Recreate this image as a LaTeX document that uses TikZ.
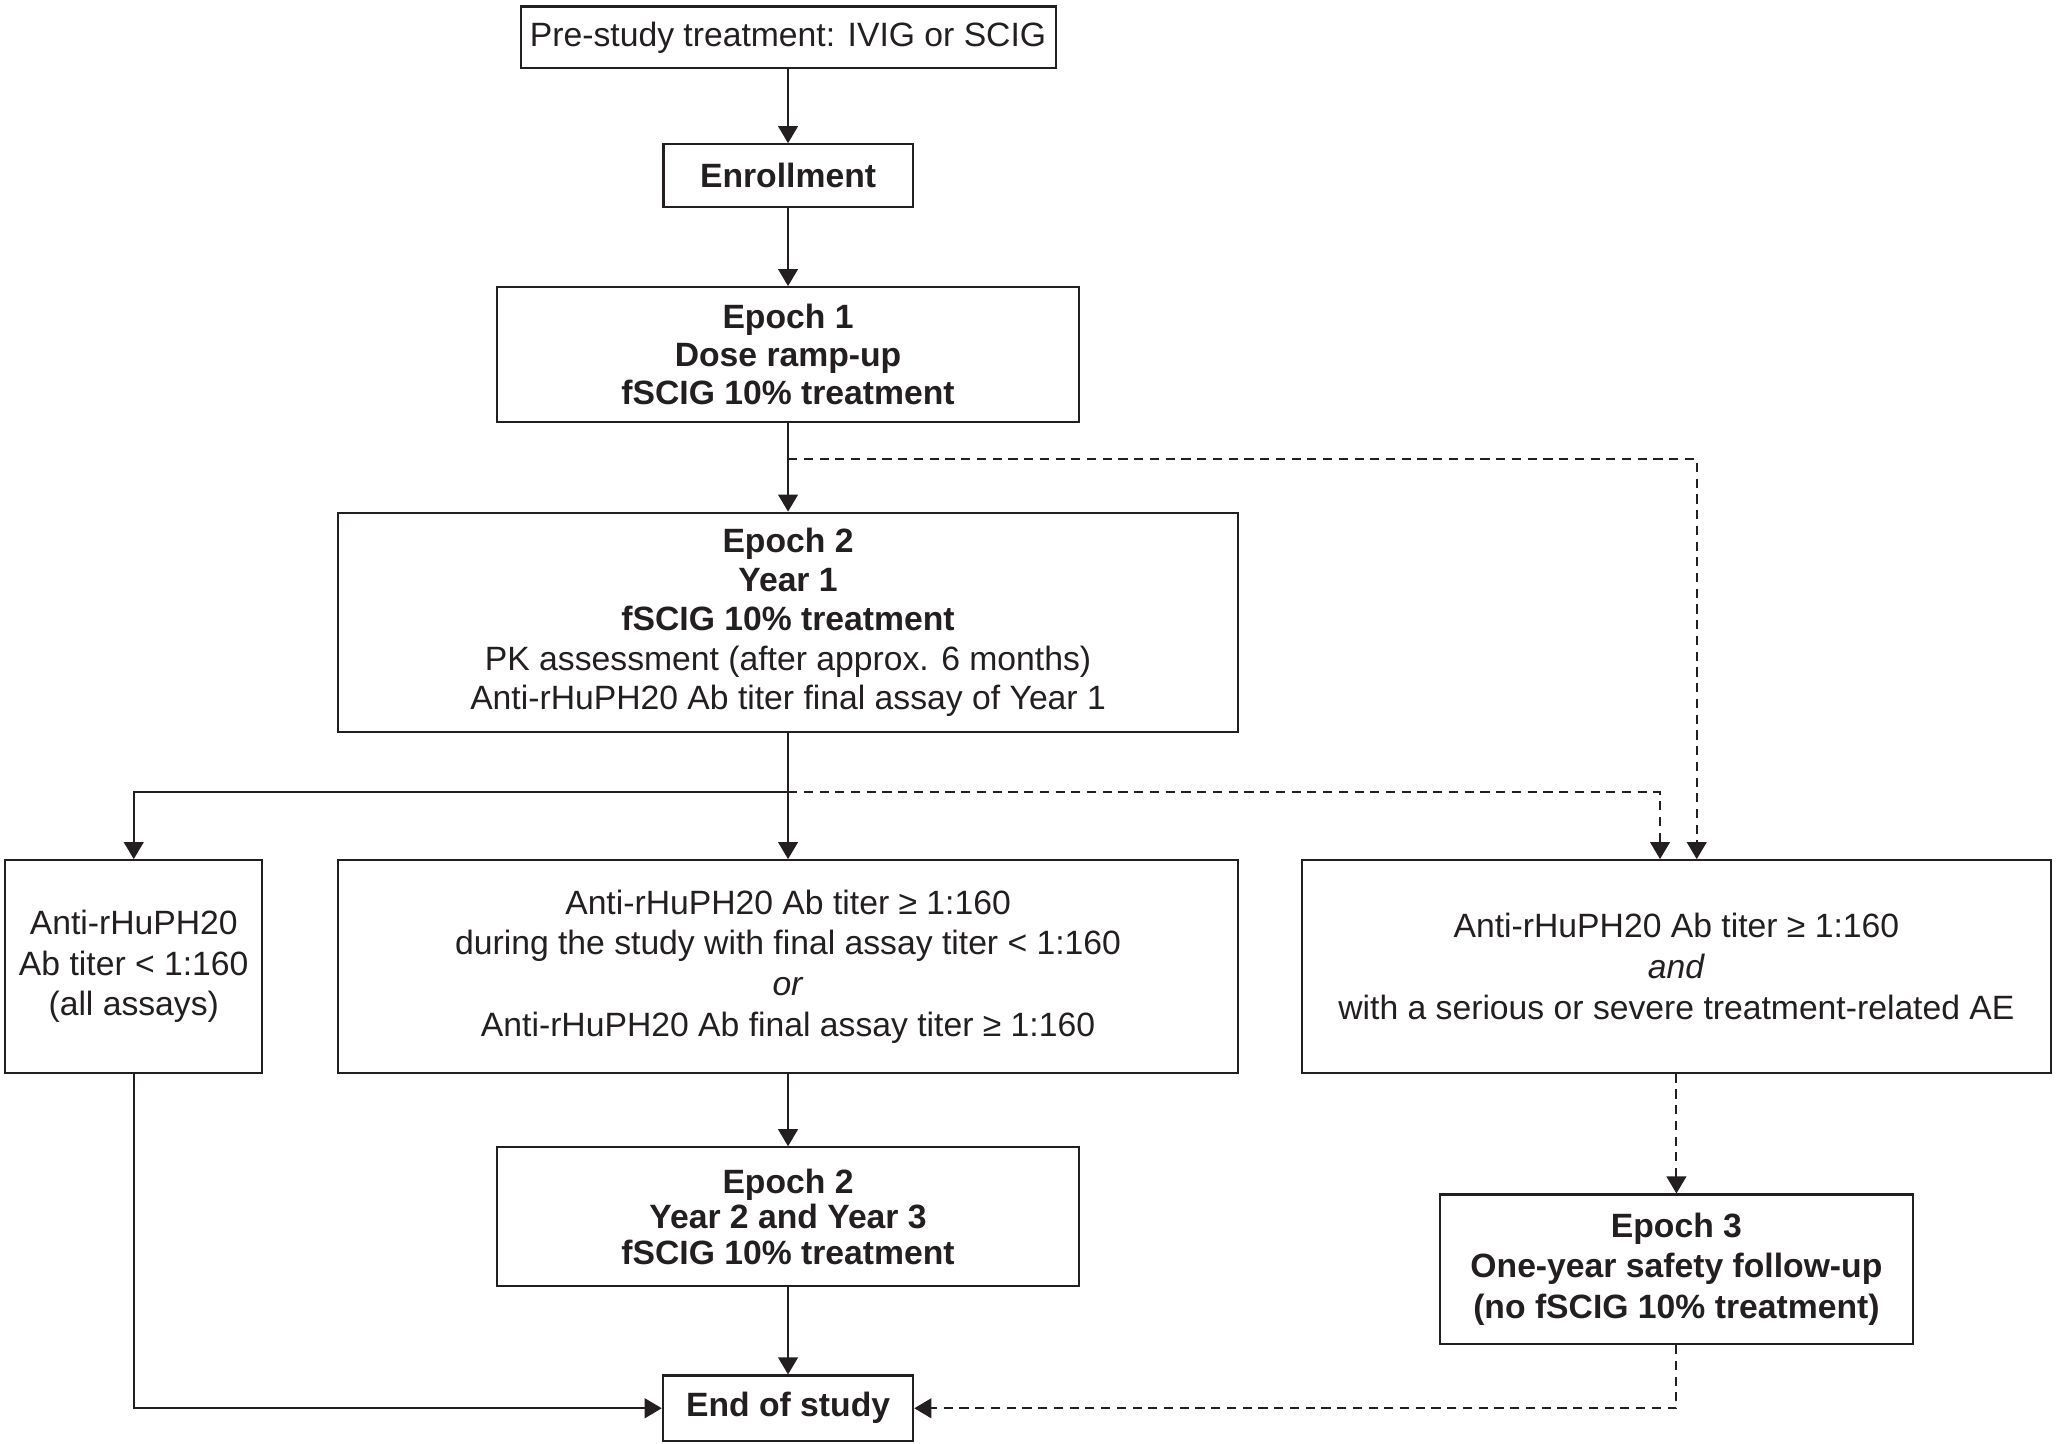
\documentclass[tikz,border=0pt]{standalone}
\usepackage{fontspec}
\setmainfont{Liberation Sans}
\usetikzlibrary{arrows.meta}
\tikzset{>={Triangle[length=6.5pt,width=7.5pt]}}
\definecolor{ink}{HTML}{231F20}

\begin{document}
\begin{tikzpicture}[x=0.5pt,y=-0.5pt,
  box/.style={draw=ink,line width=0.8pt,align=center,inner sep=0pt,text=ink,
    font=\fontsize{12.85}{15.5}\selectfont},
  bbox/.style={box,font=\fontsize{12.85}{14.5}\selectfont\bfseries},
  arr/.style={draw=ink,line width=0.8pt,->},
  darr/.style={arr,dash pattern=on 3.5pt off 2.5pt}]
\useasboundingbox (0,0) rectangle (1568,1101);

\node[box,minimum width=204pt,minimum height=23.5pt] (pre) at (601,28.5) {Pre-study treatment: IVIG or SCIG};
\node[bbox,minimum width=95pt,minimum height=24pt] (enrol) at (601,134) {Enrollment};
\node[bbox,minimum width=222pt,minimum height=51.5pt] (ep1) at (601,270.5) {Epoch 1\\Dose ramp-up\\fSCIG 10\% treatment};
\node[box,font=\fontsize{12.85}{15}\selectfont,minimum width=343pt,minimum height=83.5pt] (ep2) at (601,474.5)
  {\textbf{Epoch 2}\\\textbf{Year 1}\\\textbf{fSCIG 10\% treatment}\\PK assessment (after approx. 6 months)\\Anti-rHuPH20 Ab titer final assay of Year 1};
\node[box,minimum width=98pt,minimum height=81pt] (low) at (102,737) {Anti-rHuPH20\\Ab titer < 1:160\\(all assays)};
\node[box,minimum width=343pt,minimum height=81pt] (mid) at (601,737)
  {Anti-rHuPH20 Ab titer ≥ 1:160\\during the study with final assay titer < 1:160\\\textit{or}\\Anti-rHuPH20 Ab final assay titer ≥ 1:160};
\node[box,minimum width=285.5pt,minimum height=81pt] (high) at (1278.5,737)
  {Anti-rHuPH20 Ab titer ≥ 1:160\\\textit{and}\\with a serious or severe treatment-related AE};
\node[bbox,font=\fontsize{12.85}{13.5}\selectfont\bfseries,minimum width=222pt,minimum height=53pt] (ep2b) at (601,928) {Epoch 2\\Year 2 and Year 3\\fSCIG 10\% treatment};
\node[bbox,font=\fontsize{12.85}{15.5}\selectfont\bfseries,minimum width=180.5pt,minimum height=57pt] (ep3) at (1278.5,968) {Epoch 3\\One-year safety follow-up\\(no fSCIG 10\% treatment)};
\node[bbox,minimum width=95.5pt,minimum height=25pt] (eos) at (601,1074) {End of study};

\coordinate (s1) at (601,350);
\coordinate (s2) at (601,604);

\draw[arr] (pre) -- (enrol);
\draw[arr] (enrol) -- (ep1);
\draw[arr] (ep1) -- (ep2);
\draw[darr] (s1) -| ([xshift=7.75pt]high.north);
\draw[arr] (ep2) -- (mid);
\draw[arr] (s2) -| (low);
\draw[darr] (s2) -| ([xshift=-6.25pt]high.north);
\draw[arr] (mid) -- (ep2b);
\draw[arr] (ep2b) -- (eos);
\draw[arr] (low) |- (eos);
\draw[darr] (high) -- (ep3);
\draw[darr] (ep3) |- (eos);
\end{tikzpicture}
\end{document}
